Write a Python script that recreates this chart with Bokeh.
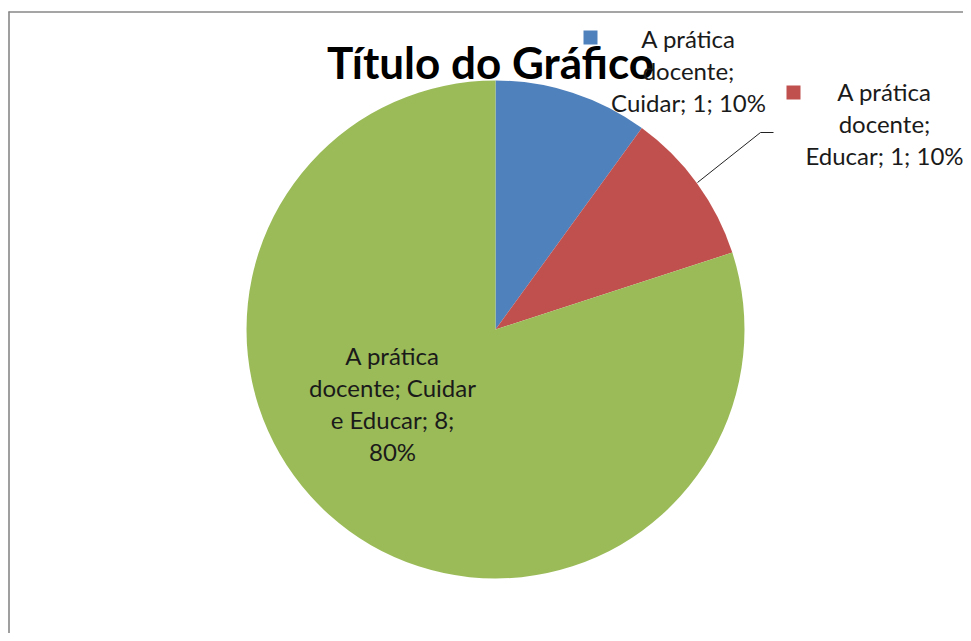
import numpy as np
from bokeh.plotting import figure
from bokeh.models import Range1d, ColumnDataSource
from bokeh.core.properties import value
from bokeh.embed import file_html
from bokeh.resources import INLINE

# ---- data ----
series_name = "A prática docente"
categories = ["Cuidar", "Educar", "Cuidar e Educar"]
counts = [1, 1, 8]
colors = ["#4F81BD", "#C0504D", "#9BBB59"]
title_text = "Título do Gráfico"

W, H = 963, 633
FONT = "Lato"

def px(x):  # picture x -> data x
    return x

def py(y):  # picture y -> data y
    return H - y

p = figure(width=W, height=H, output_backend="svg", toolbar_location=None,
           x_range=Range1d(0, W), y_range=Range1d(0, H), min_border=0,
           outline_line_color=None)
p.axis.visible = False
p.grid.visible = False
p.background_fill_color = "white"
p.border_fill_color = "white"

# chart-area border (top and left edges visible)
p.segment(x0=[px(8), px(8.5)], y0=[py(11.5), py(11)], x1=[px(971), px(8.5)], y1=[py(11.5), py(641)],
          line_color="#878787", line_width=1.6)

# pie
total = sum(counts)
fracs = np.array(counts) / total
ang = fracs * 2 * np.pi
starts = np.pi / 2 - np.concatenate([[0], np.cumsum(ang)[:-1]])
ends = starts - ang
cx, cy, r = px(495), py(329), 249
src = ColumnDataSource(dict(start=starts, end=ends, color=colors))
p.wedge(x=cx, y=cy, radius=r, start_angle="start", end_angle="end", direction="clock",
        fill_color="color", line_color=None, source=src)

# title
p.text(x=[px(490)], y=[py(61)], text=[title_text], text_font=value(FONT), text_font_style="bold",
       text_font_size="44px", text_align="center", text_baseline="alphabetic", text_color="black")

# data labels
pcts = [f"{round(f * 100)}%" for f in fracs]
label_lines = [
    ["A prática", "docente;", f"{categories[0]}; {counts[0]}; {pcts[0]}"],
    ["A prática", "docente;", f"{categories[1]}; {counts[1]}; {pcts[1]}"],
    ["A prática", f"docente; Cuidar", f"e Educar; {counts[2]};", pcts[2]],
]
label_pos = [(688, 38), (884, 91), (392, 355)]
xs, ys, ts = [], [], []
for lines, (lx, ly) in zip(label_lines, label_pos):
    for i, t in enumerate(lines):
        xs.append(px(lx)); ys.append(py(ly + 32 * i)); ts.append(t)
p.text(x=xs, y=ys, text=ts, text_font=value(FONT), text_font_size="24px",
       text_align="center", text_baseline="alphabetic", text_color="#1a1a1a")

# legend keys next to outside labels
p.rect(x=[px(590), px(793)], y=[py(37), py(92)], width=14, height=14,
       fill_color=colors[:2], line_color=None)

# leader line for "Educar"
p.line(x=[px(697), px(760), px(773)], y=[py(182), py(132), py(132)], line_color="#222222", line_width=1)

open("out.html", "w").write(file_html(p, INLINE))
